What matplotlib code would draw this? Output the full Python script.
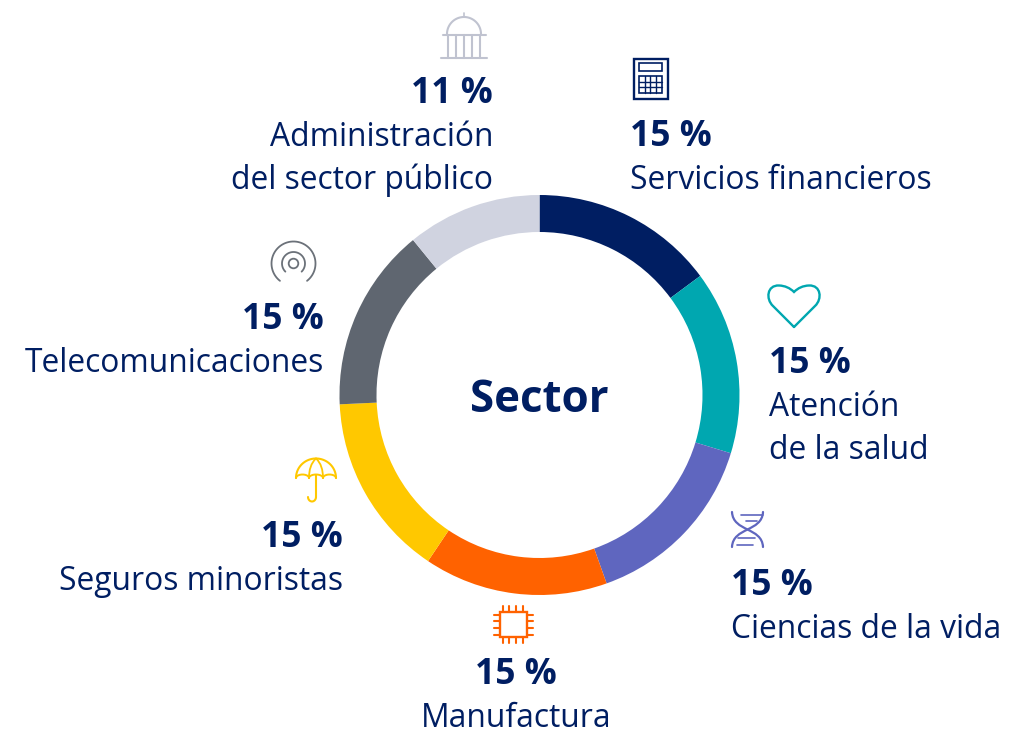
import numpy as np
import matplotlib
matplotlib.use("Agg")
import matplotlib.pyplot as plt
from matplotlib.patches import Circle, Rectangle, PathPatch
from matplotlib.path import Path

# ---- data ----
sectors = ["Servicios financieros", "Atención\nde la salud", "Ciencias de la vida", "Manufactura",
           "Seguros minoristas", "Telecomunicaciones", "Administración\ndel sector público"]
values = [15, 15, 15, 15, 15, 15, 11]
pct_labels = ["15 %", "15 %", "15 %", "15 %", "15 %", "15 %", "11 %"]
colors = ["#001e62", "#00a7b0", "#5f66bf", "#ff6200", "#ffc800", "#5f6670", "#d0d3e0"]
center_label = "Sector"
navy = "#001e62"

W, H = 1024, 744
fig = plt.figure(figsize=(W/100, H/100), dpi=100)
ax = fig.add_axes([0, 0, 1, 1])

cx, cy, R = 539.5, 395, 200
# y axis is inverted below, so this runs clockwise from the top on screen
ax.pie(values, colors=colors, center=(cx, cy), radius=R, startangle=-90, counterclock=True,
       wedgeprops=dict(width=37, linewidth=0), frame=False)
ax.set_xlim(0, W); ax.set_ylim(H, 0); ax.axis("off"); ax.set_aspect("equal")

FONT = "Open Sans"
ax.text(cx, 395, center_label, ha="center", va="center_baseline", fontsize=31.6, fontweight="bold",
        color=navy, family=FONT)

layout = [
    (630, "left", 146, 0),
    (769, "left", 373, 1),
    (731, "left", 595, 2),
    (516, "center", 684, 3),
    (343, "right", 547, 4),
    (324, "right", 329, 5),
    (493, "right", 103, 6),
]
for (x, ha, y, i) in layout:
    ax.text(x, y, pct_labels[i], ha=ha, va="baseline", fontsize=25.5, fontweight="bold", color=navy, family=FONT)
    for k, part in enumerate(sectors[i].split("\n")):
        ax.text(x, y + 43 + k*43, part, ha=ha, va="baseline", fontsize=22.9, color=navy, family=FONT)

def ln(xs, ys, c, lw=1.4):
    ax.plot(xs, ys, color=c, lw=lw, solid_capstyle="round")

def curve(verts, codes, c, lw=1.4):
    ax.add_patch(PathPatch(Path(verts, codes), fill=False, ec=c, lw=lw, capstyle="round"))

M, L, C = Path.MOVETO, Path.LINETO, Path.CURVE4

# building icon
c = "#c0c3d0"
ln([441, 487], [58, 58], c, 1.5); ln([442.5, 485.5], [34.5, 34.5], c, 1.5)
t = np.linspace(np.pi, 2*np.pi, 40)
ln(464 + 17*np.cos(t), 34 + 17*np.sin(t), c, 1.5)
ln([464, 464], [13, 17], c, 1.2)
for x in [448, 456, 464, 472, 480]:
    ln([x, x], [35, 58], c, 1.5)

# calculator icon
c = navy
ax.add_patch(Rectangle((633.5, 58.5), 34, 40.5, fill=False, ec=c, lw=1.7))
ax.add_patch(Rectangle((638.5, 63), 23.5, 8, fill=False, ec=c, lw=1.2))
ax.add_patch(Rectangle((638.5, 76), 23.5, 17, fill=False, ec=c, lw=1.2))
for x in [644.5, 650.3, 656.2]:
    ln([x, x], [76, 93], c, 1)
for y in [81.7, 87.3]:
    ln([638.5, 662], [y, y], c, 1)

# heart icon
c = "#00a7b0"
curve([(794, 327), (773, 306), (765.5, 299), (767, 285), (779, 285.5), (785, 285.7), (790, 288), (794, 292),
       (798, 288), (803, 285.7), (809, 285.5), (821, 285), (822.5, 299), (815, 306), (794, 327)],
      [M, L, C, C, C, C, C, C, C, C, C, C, C, C, L], c, 1.7)

# DNA icon
c = "#5f66bf"
curve([(732, 512), (733, 532), (762, 527), (763, 547)], [M, C, C, C], c, 1.6)
curve([(763, 512), (762, 532), (733, 527), (732, 547)], [M, C, C, C], c, 1.6)
for y0, a, b in [(515, 741, 763), (521, 746, 757), (538, 738, 755), (545, 737, 753)]:
    ln([a, b], [y0, y0], c, 1.2)

# umbrella icon
c = "#ffc800"
t = np.linspace(np.pi, 2*np.pi, 40)
ln(316 + 20*np.cos(t), 478 + 19.5*np.sin(t), c, 1.5)
edges = [296, 309, 323, 336]
for a, b in zip(edges[:-1], edges[1:]):
    tt = np.linspace(np.pi, 2*np.pi, 12)
    ln((a+b)/2 + (b-a)/2*np.cos(tt), 478 + 3.5*np.sin(tt), c, 1.4)
curve([(316, 458.5), (311, 463), (309, 470), (309, 478)], [M, C, C, C], c, 1.3)
curve([(316, 458.5), (321, 463), (323, 470), (323, 478)], [M, C, C, C], c, 1.3)
ln([316, 316], [475, 497], c, 1.5)
tt = np.linspace(0, np.pi, 12)
ln(312 + 4*np.cos(tt), 497 + 4.5*np.sin(tt), c, 1.5)

# chip icon
c = "#ff6200"
ax.add_patch(Rectangle((500, 612), 27, 25, fill=False, ec=c, lw=1.7))
for p in [502.5, 509, 516, 523]:
    ln([p, p], [605.5, 612], c, 1.5); ln([p, p], [637, 643], c, 1.5)
for p in [614.5, 621, 628, 635]:
    ln([494, 500], [p, p], c, 1.5); ln([527, 532.5], [p, p], c, 1.5)

# antenna icon
c = "#6b7179"
ax.add_patch(Circle((293.5, 263.5), 4.8, fill=False, ec=c, lw=1.3))
for r, a in [(11.5, 45), (22, 52)]:
    t = np.radians(np.linspace(-a, 180 + a, 60))
    ln(293.5 + r*np.cos(t), 263.5 - r*np.sin(t), c, 1.3)

fig.savefig("out.png", dpi=100)
